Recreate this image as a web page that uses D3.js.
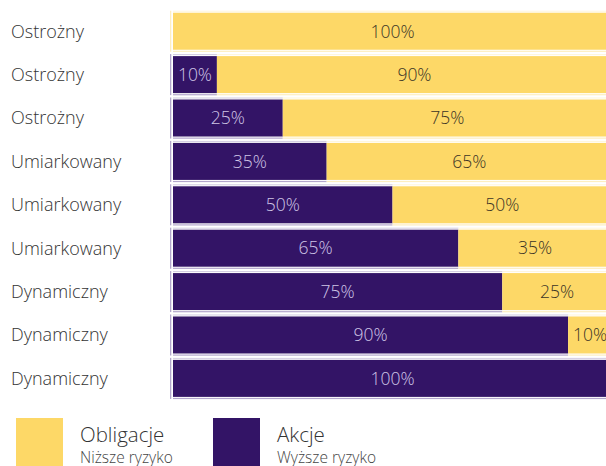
<!DOCTYPE html>
<meta charset="utf-8">
<head>
  <script src="https://cdn.jsdelivr.net/npm/d3@7"></script>
  <style>
    body { margin: 0; background: #fff; }
    text { font-family: "Open Sans", sans-serif; }
  </style>
</head>
<body>
  <div id="viz"></div>
  <script>
    // profile names, top to bottom
    var profiles = ["Ostrożny", "Ostrożny", "Ostrożny", "Umiarkowany", "Umiarkowany",
                    "Umiarkowany", "Dynamiczny", "Dynamiczny", "Dynamiczny"];
    // share of stocks (Akcje) and bonds (Obligacje) in each profile, %
    var akcje = [0, 10, 25, 35, 50, 65, 75, 90, 100];
    var obligacje = [100, 90, 75, 65, 50, 35, 25, 10, 0];

    var legendNames = ["Obligacje", "Akcje"];
    var legendNotes = ["Niższe ryzyko", "Wyższe ryzyko"];

    var colors = { akcje: "#331466", obligacje: "#FDD867" };
    var light = { akcje: "#b3a6cc", obligacje: "#fdeec0" };
    var textColors = { akcje: "#cfc5e6", obligacje: "#3b3426" };

    var width = 606, height = 466;

    var svg = d3.select("#viz").append("svg")
      .attr("width", width)
      .attr("height", height);

    var rows = profiles.map(function(p, i) {
      return { i: i, name: p, akcje: akcje[i], obligacje: obligacje[i] };
    });

    var x = d3.scaleLinear().domain([0, 100]).range([173, 612]);
    var y = d3.scaleBand()
      .domain(d3.range(profiles.length))
      .range([9.5, 400.1])
      .paddingInner(0.147)
      .paddingOuter(0.074);

    // segments: stocks first (left), bonds after
    var segs = [];
    rows.forEach(function(r) {
      if (r.akcje > 0) segs.push({ i: r.i, key: "akcje", x0: 0, x1: r.akcje, v: r.akcje });
      if (r.obligacje > 0) segs.push({ i: r.i, key: "obligacje", x0: r.akcje, x1: 100, v: r.obligacje });
    });

    var g = svg.append("g");

    // thin tinted underline under every segment
    g.selectAll(".under")
      .data(segs)
      .enter().append("rect")
      .attr("class", "under")
      .attr("x", function(d) { return x(d.x0); })
      .attr("y", function(d) { return y(d.i) + y.bandwidth() + 1; })
      .attr("width", function(d) { return x(d.x1) - x(d.x0); })
      .attr("height", 1.2)
      .attr("fill", function(d) { return light[d.key]; });

    g.selectAll(".over")
      .data(segs)
      .enter().append("rect")
      .attr("class", "over")
      .attr("x", function(d) { return x(d.x0); })
      .attr("y", function(d) { return y(d.i) - 2; })
      .attr("width", function(d) { return x(d.x1) - x(d.x0); })
      .attr("height", 1)
      .attr("fill", function(d) { return light[d.key]; })
      .attr("opacity", 0.6);

    // left edge line of each row
    g.selectAll(".edge")
      .data(rows)
      .enter().append("rect")
      .attr("class", "edge")
      .attr("x", 170)
      .attr("y", function(d) { return y(d.i) - 2; })
      .attr("width", 1.3)
      .attr("height", y.bandwidth() + 4)
      .attr("fill", function(d) { return d.akcje > 0 ? light.akcje : light.obligacje; });

    g.selectAll(".seg")
      .data(segs)
      .enter().append("rect")
      .attr("class", "seg")
      .attr("x", function(d) { return x(d.x0); })
      .attr("y", function(d) { return y(d.i); })
      .attr("width", function(d) { return x(d.x1) - x(d.x0); })
      .attr("height", y.bandwidth())
      .attr("fill", function(d) { return colors[d.key]; });

    g.selectAll(".val")
      .data(segs)
      .enter().append("text")
      .attr("class", "val")
      .attr("x", function(d) { return (x(d.x0) + x(d.x1)) / 2; })
      .attr("y", function(d) { return y(d.i) + y.bandwidth() / 2; })
      .attr("dy", "0.36em")
      .attr("text-anchor", "middle")
      .attr("font-size", 17.5)
      .attr("font-weight", 300)
      .attr("fill", function(d) { return textColors[d.key]; })
      .text(function(d) { return d.v + "%"; });

    // profile names on the left
    g.selectAll(".name")
      .data(rows)
      .enter().append("text")
      .attr("class", "name")
      .attr("x", 11)
      .attr("y", function(d) { return y(d.i) + y.bandwidth() / 2; })
      .attr("dy", "0.36em")
      .attr("font-size", 18)
      .attr("font-weight", 300)
      .attr("fill", "#333")
      .text(function(d) { return d.name; });

    // legend
    var legend = svg.selectAll(".legend")
      .data(legendNames)
      .enter().append("g")
      .attr("class", "legend")
      .attr("transform", function(d, i) { return "translate(" + (16 + i * 197) + ",418)"; });

    legend.append("rect")
      .attr("width", 47)
      .attr("height", 60)
      .attr("fill", function(d, i) { return i === 0 ? colors.obligacje : colors.akcje; });

    legend.append("text")
      .attr("x", 64)
      .attr("y", 24)
      .attr("font-size", 20.5)
      .attr("font-weight", 300)
      .attr("fill", "#333")
      .text(function(d) { return d; });

    legend.append("text")
      .attr("x", 64)
      .attr("y", 45)
      .attr("font-size", 15.5)
      .attr("font-weight", 300)
      .attr("fill", "#444")
      .text(function(d, i) { return legendNotes[i]; });
  </script>
</body>
